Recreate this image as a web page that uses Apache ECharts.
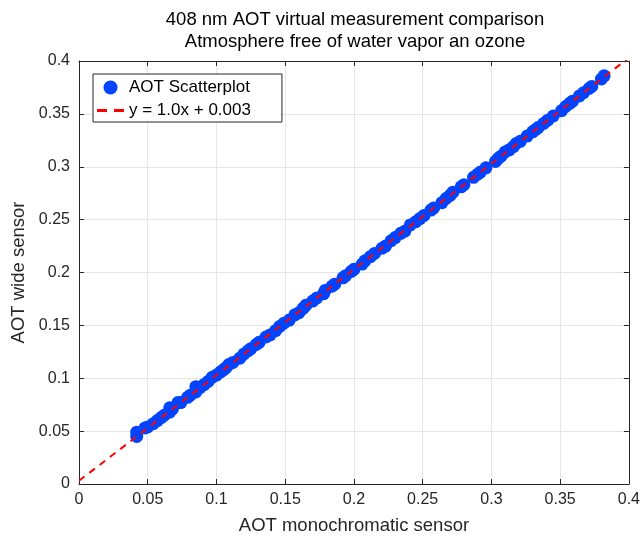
<!DOCTYPE html>
<html>
<head>
<meta charset="utf-8">
<script src="https://cdn.jsdelivr.net/npm/echarts@6/dist/echarts.min.js"></script>
<style>
html,body{margin:0;padding:0;background:#fff;}
#chart{width:643px;height:541px;}
</style>
</head>
<body>
<div id="chart"></div>
<script>
const titleLines = ['408 nm AOT virtual measurement comparison', 'Atmosphere free of water vapor an ozone'];
const xName = 'AOT monochromatic sensor';
const yName = 'AOT wide sensor';
const scatterName = 'AOT Scatterplot';
const fitName = 'y = 1.0x + 0.003';

const monoX = [0.042,0.042,0.048,0.050,0.054,0.057,0.060,0.062,0.066,0.066,0.068,0.072,0.074,0.079,0.081,0.085,0.085,0.088,0.091,0.094,0.097,0.100,0.103,0.105,0.107,0.109,0.112,0.117,0.120,0.123,0.125,0.129,0.131,0.136,0.139,0.143,0.146,0.149,0.153,0.157,0.160,0.163,0.165,0.170,0.173,0.178,0.179,0.184,0.186,0.192,0.194,0.198,0.200,0.206,0.208,0.212,0.215,0.2205,0.223,0.227,0.230,0.234,0.237,0.241,0.245,0.248,0.251,0.256,0.258,0.264,0.267,0.270,0.272,0.278,0.280,0.287,0.290,0.292,0.296,0.303,0.305,0.307,0.310,0.313,0.316,0.318,0.321,0.326,0.330,0.332,0.334,0.338,0.341,0.345,0.351,0.354,0.357,0.359,0.364,0.367,0.371,0.373,0.380,0.382];
const wideY = [0.045,0.049,0.053,0.054,0.057,0.060,0.063,0.065,0.068,0.072,0.071,0.077,0.077,0.082,0.084,0.087,0.092,0.091,0.094,0.097,0.101,0.103,0.106,0.108,0.110,0.113,0.115,0.119,0.123,0.126,0.128,0.132,0.134,0.139,0.141,0.145,0.149,0.152,0.155,0.160,0.162,0.166,0.169,0.173,0.176,0.180,0.183,0.187,0.189,0.195,0.197,0.201,0.203,0.208,0.211,0.215,0.218,0.223,0.225,0.230,0.233,0.237,0.239,0.245,0.248,0.251,0.254,0.259,0.261,0.266,0.270,0.273,0.276,0.281,0.283,0.290,0.293,0.295,0.299,0.305,0.308,0.310,0.314,0.316,0.319,0.322,0.324,0.329,0.333,0.335,0.337,0.341,0.344,0.348,0.353,0.357,0.360,0.362,0.367,0.370,0.374,0.376,0.383,0.386];
const fitSlope = 1.0;
const fitIntercept = 0.003;
const fitXRange = [0, 0.4];

const scatterData = monoX.map((x, i) => [x, wideY[i]]);
const fitData = fitXRange.map(x => [x, fitSlope * x + fitIntercept]);

const FONT = "'Liberation Sans', Arial, Helvetica, sans-serif";
const AX = '#262626';

const chart = echarts.init(document.getElementById('chart'), null, {renderer: 'canvas'});
const baseAxis = {
  type: 'value', min: 0, max: 0.4, interval: 0.05,
  axisLine: {show: true, onZero: false, lineStyle: {color: AX, width: 1}},
  axisTick: {show: true, inside: true, length: 5, lineStyle: {color: AX}},
  splitLine: {show: false}
};
chart.setOption({
  animation: false,
  backgroundColor: '#fff',
  textStyle: {fontFamily: FONT},
  title: {
    text: titleLines.join('\n'),
    left: 350, top: 4, textAlign: 'center',
    textStyle: {fontFamily: FONT, fontSize: 18.5, fontWeight: 'normal', color: '#000', lineHeight: 22}
  },
  grid: {left: 79, right: 12, top: 61, bottom: 57, containLabel: false},
  legend: {
    orient: 'vertical', left: 93, top: 74,
    backgroundColor: '#fff', borderColor: AX, borderWidth: 1, borderRadius: 0,
    padding: [5, 31, 3, 4], itemGap: 6, itemWidth: 27, itemHeight: 14,
    textStyle: {fontFamily: FONT, fontSize: 17, color: '#000', lineHeight: 16},
    data: [
      {name: scatterName, icon: 'circle'},
      {name: fitName, icon: 'path://M0,0 H10 V3 H0 Z M17,0 H27 V3 H17 Z'}
    ]
  },
  xAxis: [
    Object.assign({}, baseAxis, {
      position: 'bottom',
      name: xName, nameLocation: 'middle', nameGap: 32,
      nameTextStyle: {fontFamily: FONT, fontSize: 18.5, color: AX},
      axisLabel: {color: AX, fontSize: 16, fontFamily: FONT, margin: 8},
      splitLine: {show: true, lineStyle: {color: '#e6e6e6', width: 1}}
    }),
    Object.assign({}, baseAxis, {position: 'top', axisLabel: {show: false}})
  ],
  yAxis: [
    Object.assign({}, baseAxis, {
      position: 'left',
      name: yName, nameLocation: 'middle', nameGap: 50,
      nameTextStyle: {fontFamily: FONT, fontSize: 18.5, color: AX},
      axisLabel: {color: AX, fontSize: 16, fontFamily: FONT, margin: 9},
      splitLine: {show: true, lineStyle: {color: '#e6e6e6', width: 1}}
    }),
    Object.assign({}, baseAxis, {position: 'right', axisLabel: {show: false}})
  ],
  series: [
    {
      name: scatterName, type: 'scatter', xAxisIndex: 0, yAxisIndex: 0,
      symbol: 'circle', symbolSize: 13,
      itemStyle: {color: '#0044ff', opacity: 1},
      data: scatterData
    },
    {
      name: fitName, type: 'line', xAxisIndex: 0, yAxisIndex: 0,
      symbol: 'none', clip: true,
      lineStyle: {color: '#ff0000', width: 2, type: [7, 6]},
      itemStyle: {color: '#ff0000'},
      data: fitData
    }
  ]
});
</script>
</body>
</html>
